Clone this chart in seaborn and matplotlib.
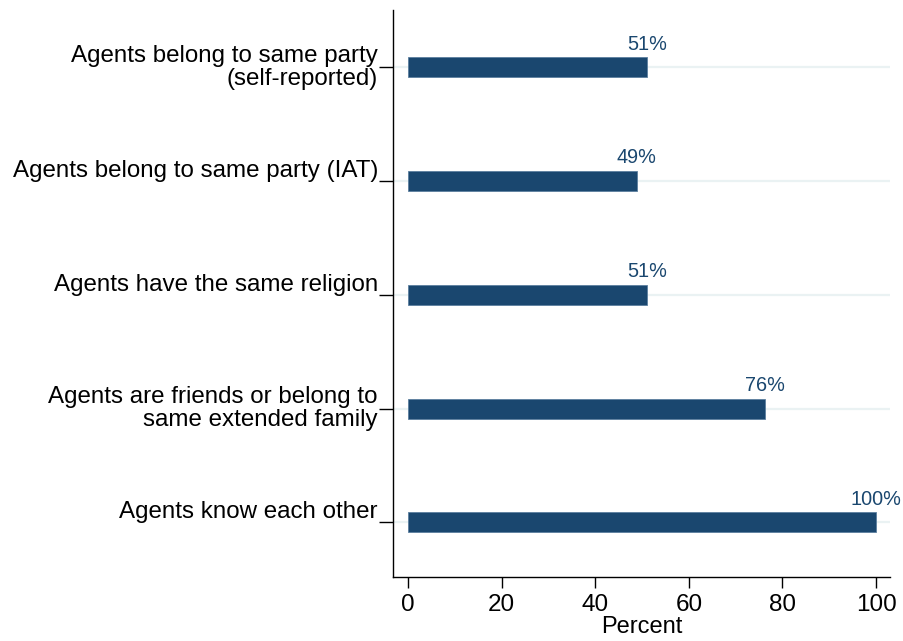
import pandas as pd
import seaborn as sns
import matplotlib.pyplot as plt
from matplotlib.transforms import ScaledTranslation

categories = [
    "Agents belong to same party\n(self-reported)",
    "Agents belong to same party (IAT)",
    "Agents have the same religion",
    "Agents are friends or belong to\nsame extended family",
    "Agents know each other",
]
percent = [51.0, 48.9, 51.0, 76.3, 100.0]
value_labels = ["51%", "49%", "51%", "76%", "100%"]

df = pd.DataFrame({"category": categories, "percent": percent})

sns.set_style("white")
plt.rcParams['font.family'] = ['Liberation Sans', 'DejaVu Sans']
plt.rcParams['text.color'] = 'black'
plt.rcParams['axes.labelcolor'] = 'black'
plt.rcParams['xtick.color'] = 'black'
plt.rcParams['ytick.color'] = 'black'

fig = plt.figure(figsize=(9.04, 6.41), dpi=100)
ax = fig.add_axes([0.4347, 0.0998, 0.55, 0.8842])

navy = "#1a476f"

# light gridlines at each category
for i in range(len(categories)):
    ax.axhline(i, color="#eaf2f3", lw=1.6, zorder=0)

sns.barplot(data=df, x="percent", y="category", orient="h", color=navy,
            width=0.176, saturation=1, edgecolor="#5b7f9f", linewidth=0.6,
            ax=ax, zorder=2)

for i, (v, lab) in enumerate(zip(percent, value_labels)):
    ax.text(v, i - 0.12, lab, ha="center", va="bottom", color=navy, fontsize=14.3)

ax.set_xlim(-3.2, 103)
ax.set_ylim(4.48, -0.5)
ax.set_xticks([0, 20, 40, 60, 80, 100])
ax.set_xlabel("Percent", fontsize=17, labelpad=0.5)
ax.set_ylabel("")

# category labels drawn as text so single-line ones can sit a little above the tick (Stata style)
ax.set_yticklabels([])
ytrans = ax.get_yaxis_transform()
for i, cat in enumerate(categories):
    dy = 0 if "\n" in cat else 10
    off = ScaledTranslation(-15 / 100, dy / 100, fig.dpi_scale_trans)
    ax.text(0, i, cat, transform=ytrans + off, ha="right", va="center",
            multialignment="right", fontsize=17.4, color="black", linespacing=1.05)

for s in ["top", "right"]:
    ax.spines[s].set_visible(False)
for s in ["left", "bottom"]:
    ax.spines[s].set_color("black")
    ax.spines[s].set_linewidth(1.0)

ax.tick_params(axis="y", length=10, width=1, direction="out", left=True)
ax.tick_params(axis="x", length=8, width=1, direction="out", pad=4, labelsize=17.5, bottom=True)

plt.savefig("out.png", dpi=100)
